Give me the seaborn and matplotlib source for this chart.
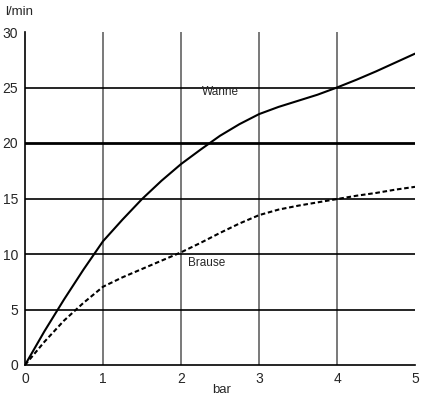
import matplotlib
matplotlib.use("Agg")
import matplotlib.pyplot as plt
import seaborn as sns
import pandas as pd

pressure = [0, 0.25, 0.5, 0.75, 1, 1.25, 1.5, 1.75, 2, 2.25, 2.5, 2.75, 3,
            3.25, 3.5, 3.75, 4, 4.25, 4.5, 4.75, 5]
wanne = [0, 3.05, 5.9, 8.6, 11.15, 13.1, 14.95, 16.6, 18.1, 19.4, 20.65, 21.7, 22.6,
         23.25, 23.8, 24.35, 25.0, 25.7, 26.45, 27.25, 28.05]
brause = [0, 2.1, 4.0, 5.6, 7.05, 7.9, 8.65, 9.4, 10.15, 11.0, 11.9, 12.75, 13.5,
          14.0, 14.35, 14.65, 14.95, 15.25, 15.5, 15.8, 16.05]
xticks = [0, 1, 2, 3, 4, 5]
yticks = [0, 5, 10, 15, 20, 25, 30]

sns.set_style("white")
plt.rcParams['font.family'] = ['Liberation Sans', 'DejaVu Sans']

fig = plt.figure(figsize=(4.25, 3.95), dpi=100)
ax = fig.add_axes([25/425, 30/395, 390/425, 333/395])

for x in xticks[1:-1]:
    ax.axvline(x, color='#555555', lw=1.1, zorder=1)
for y in yticks[1:-1]:
    ax.axhline(y, color='black', lw=2.0 if y == 20 else 1.2, zorder=1)

df = pd.DataFrame({'bar': pressure, 'Wanne': wanne, 'Brause': brause})
sns.lineplot(data=df, x='bar', y='Wanne', ax=ax, color='black', lw=1.5, zorder=3,
             solid_joinstyle='round')
sns.lineplot(data=df, x='bar', y='Brause', ax=ax, color='black', lw=1.5,
             linestyle=(0, (2.2, 1.3)), zorder=3)

ax.set_xlim(0, 5)
ax.set_ylim(0, 30)
ax.set_xticks(xticks)
ax.set_yticks(yticks)
ax.tick_params(axis='both', direction='out', length=3, width=1, color='black',
               labelsize=10, pad=2)
for s in ['top', 'right']:
    ax.spines[s].set_visible(False)
for s in ['left', 'bottom']:
    ax.spines[s].set_color('black')
    ax.spines[s].set_linewidth(1.2)

ax.set_xlabel('')
ax.set_ylabel('')
ax.text(2.51, 24.6, 'Wanne', fontsize=8.5, ha='center', va='center')
ax.text(2.33, 9.2, 'Brause', fontsize=8.5, ha='center', va='center')
fig.text(5/425, 1 - 12/395, 'l/min', fontsize=9.5, ha='left', va='center')
fig.text(222/425, 1 - 390/395, 'bar', fontsize=9.5, ha='center', va='center')

fig.savefig('out.png', dpi=100)
